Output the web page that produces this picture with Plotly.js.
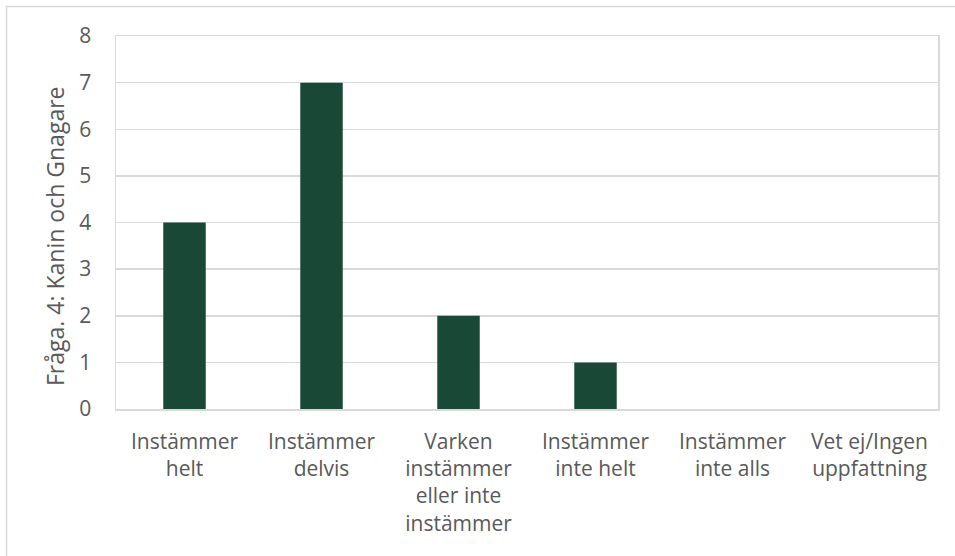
<!DOCTYPE html>
<html>
<head>
<meta charset="utf-8">
<script src="https://cdn.plot.ly/plotly-3.0.1.min.js"></script>
<style>html,body{margin:0;padding:0;background:#fff;}#chart{width:955px;height:556px;}</style>
</head>
<body>
<div id="chart"></div>
<script>
const categories = [
  "Instämmer<br>helt",
  "Instämmer<br>delvis",
  "Varken<br>instämmer<br>eller inte<br>instämmer",
  "Instämmer<br>inte helt",
  "Instämmer<br>inte alls",
  "Vet ej/Ingen<br>uppfattning"
];
const values = [4, 7, 2, 1, 0, 0];
const yTitle = "Fråga. 4: Kanin och Gnagare";

const L = 116, R = 938, T = 36, B = 409, W = 955, H = 556;
const px = x => (x - L) / (R - L);
const py = y => (B - y) / (B - T);

const trace = {
  type: "bar",
  x: categories,
  y: values,
  marker: {color: "#1A4837"},
  hoverinfo: "x+y"
};

const layout = {
  width: W, height: H,
  margin: {l: L, r: W - R, t: T, b: H - B, pad: 0},
  paper_bgcolor: "#fff",
  plot_bgcolor: "#fff",
  bargap: 0.69,
  showlegend: false,
  font: {family: "Open Sans, sans-serif", size: 21, color: "#595959"},
  xaxis: {
    type: "category",
    showline: true, mirror: true, linecolor: "#d9d9d9", linewidth: 1.5,
    ticks: "", tickangle: 0,
    ticklabelstandoff: 13,
    tickfont: {size: 21, color: "#595959"}
  },
  yaxis: {
    range: [0, 8], dtick: 1,
    showline: true, mirror: true, linecolor: "#d9d9d9", linewidth: 1.5,
    gridcolor: "#d9d9d9", gridwidth: 1.5,
    zeroline: false,
    ticks: "",
    ticklabelstandoff: 19,
    tickfont: {size: 21, color: "#595959"}
  },
  annotations: [
    {text: yTitle, xref: "paper", yref: "paper", x: px(55), y: py(237),
     xanchor: "center", yanchor: "middle", textangle: -90, showarrow: false,
     font: {size: 23, color: "#595959"}}
  ],
  shapes: [
    {type: "path", xref: "paper", yref: "paper",
     path: `M ${px(6.5)} ${py(H + 5)} L ${px(6.5)} ${py(6.5)} L ${px(W + 5)} ${py(6.5)}`,
     line: {color: "#d9d9d9", width: 1.5}}
  ]
};

Plotly.newPlot("chart", [trace], layout, {displayModeBar: false, staticPlot: true});
</script>
</body>
</html>
